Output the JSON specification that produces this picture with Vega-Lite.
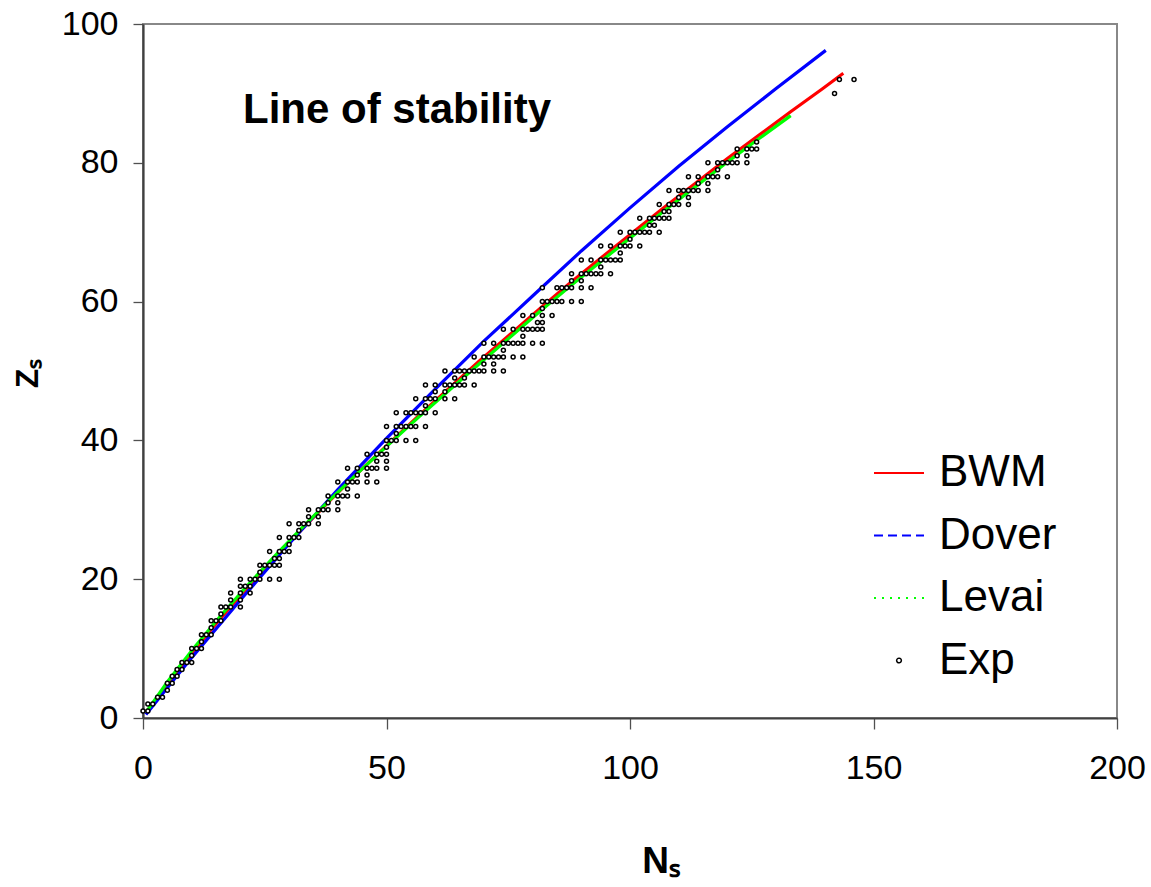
{
  "$schema": "https://vega.github.io/schema/vega-lite/v6.json",
  "autosize": "none",
  "padding": {"left": 143, "top": 24, "right": 34, "bottom": 169},
  "width": 974,
  "height": 694,
  "background": "white",
  "title": {
    "text": "Line of stability",
    "anchor": "start",
    "frame": "group",
    "orient": "top",
    "baseline": "alphabetic",
    "offset": 0,
    "dx": 100,
    "dy": 158,
    "font": "Liberation Sans",
    "fontWeight": "bold",
    "fontSize": 42,
    "color": "black"
  },
  "datasets": {
    "models": [
      {"s": "BWM", "N": 1.0, "Z": 1.0}, {"s": "BWM", "N": 5.1, "Z": 4.9}, {"s": "BWM", "N": 10.36, "Z": 9.64}, {"s": "BWM", "N": 15.78, "Z": 14.22}, {"s": "BWM", "N": 21.33, "Z": 18.67}, {"s": "BWM", "N": 27.0, "Z": 23.0}, {"s": "BWM", "N": 32.77, "Z": 27.3}, {"s": "BWM", "N": 38.63, "Z": 31.5}, {"s": "BWM", "N": 44.57, "Z": 35.6}, {"s": "BWM", "N": 50.59, "Z": 39.6}, {"s": "BWM", "N": 56.67, "Z": 43.6}, {"s": "BWM", "N": 62.81, "Z": 47.5}, {"s": "BWM", "N": 69.0, "Z": 51.4}, {"s": "BWM", "N": 75.24, "Z": 55.2}, {"s": "BWM", "N": 81.53, "Z": 59.0}, {"s": "BWM", "N": 87.86, "Z": 62.8}, {"s": "BWM", "N": 94.22, "Z": 66.4}, {"s": "BWM", "N": 100.62, "Z": 70.0}, {"s": "BWM", "N": 107.05, "Z": 73.6}, {"s": "BWM", "N": 113.51, "Z": 77.1}, {"s": "BWM", "N": 120.0, "Z": 80.6}, {"s": "BWM", "N": 126.51, "Z": 84.0}, {"s": "BWM", "N": 133.05, "Z": 87.4}, {"s": "BWM", "N": 139.6, "Z": 90.7}, {"s": "BWM", "N": 143.8, "Z": 92.9},
      {"s": "Dover", "N": 0.6, "Z": 0.5}, {"s": "Dover", "N": 10, "Z": 8.7}, {"s": "Dover", "N": 20, "Z": 17.0}, {"s": "Dover", "N": 30, "Z": 25.1}, {"s": "Dover", "N": 40, "Z": 32.9}, {"s": "Dover", "N": 50, "Z": 40.3}, {"s": "Dover", "N": 60, "Z": 47.4}, {"s": "Dover", "N": 70, "Z": 54.3}, {"s": "Dover", "N": 80, "Z": 60.8}, {"s": "Dover", "N": 90, "Z": 67.3}, {"s": "Dover", "N": 100, "Z": 73.5}, {"s": "Dover", "N": 110, "Z": 79.5}, {"s": "Dover", "N": 120, "Z": 85.2}, {"s": "Dover", "N": 130, "Z": 90.7}, {"s": "Dover", "N": 140.2, "Z": 96.2},
      {"s": "Levai", "N": 1.0, "Z": 1.2}, {"s": "Levai", "N": 5.1, "Z": 5.3}, {"s": "Levai", "N": 10.36, "Z": 10.0}, {"s": "Levai", "N": 15.78, "Z": 14.6}, {"s": "Levai", "N": 21.33, "Z": 19.0}, {"s": "Levai", "N": 27.0, "Z": 23.3}, {"s": "Levai", "N": 32.77, "Z": 27.5}, {"s": "Levai", "N": 38.63, "Z": 31.6}, {"s": "Levai", "N": 44.57, "Z": 35.6}, {"s": "Levai", "N": 50.59, "Z": 39.5}, {"s": "Levai", "N": 56.67, "Z": 43.4}, {"s": "Levai", "N": 62.81, "Z": 47.2}, {"s": "Levai", "N": 69.0, "Z": 51.0}, {"s": "Levai", "N": 75.24, "Z": 54.8}, {"s": "Levai", "N": 81.53, "Z": 58.6}, {"s": "Levai", "N": 87.86, "Z": 62.3}, {"s": "Levai", "N": 94.22, "Z": 65.9}, {"s": "Levai", "N": 100.62, "Z": 69.5}, {"s": "Levai", "N": 107.05, "Z": 73.1}, {"s": "Levai", "N": 113.51, "Z": 76.6}, {"s": "Levai", "N": 120.0, "Z": 80.1}, {"s": "Levai", "N": 126.51, "Z": 83.5}, {"s": "Levai", "N": 133.0, "Z": 86.8}
    ],
    "exp": [
      {"s":"Exp","Z":1,"N":0},{"s":"Exp","Z":1,"N":1},
      {"s":"Exp","Z":2,"N":1},{"s":"Exp","Z":2,"N":2},
      {"s":"Exp","Z":3,"N":3},{"s":"Exp","Z":3,"N":4},
      {"s":"Exp","Z":4,"N":5},
      {"s":"Exp","Z":5,"N":5},{"s":"Exp","Z":5,"N":6},
      {"s":"Exp","Z":6,"N":6},{"s":"Exp","Z":6,"N":7},
      {"s":"Exp","Z":7,"N":7},{"s":"Exp","Z":7,"N":8},
      {"s":"Exp","Z":8,"N":8},{"s":"Exp","Z":8,"N":9},{"s":"Exp","Z":8,"N":10},
      {"s":"Exp","Z":9,"N":10},
      {"s":"Exp","Z":10,"N":10},{"s":"Exp","Z":10,"N":11},{"s":"Exp","Z":10,"N":12},
      {"s":"Exp","Z":11,"N":12},
      {"s":"Exp","Z":12,"N":12},{"s":"Exp","Z":12,"N":13},{"s":"Exp","Z":12,"N":14},
      {"s":"Exp","Z":13,"N":14},
      {"s":"Exp","Z":14,"N":14},{"s":"Exp","Z":14,"N":15},{"s":"Exp","Z":14,"N":16},
      {"s":"Exp","Z":15,"N":16},
      {"s":"Exp","Z":16,"N":16},{"s":"Exp","Z":16,"N":17},{"s":"Exp","Z":16,"N":18},{"s":"Exp","Z":16,"N":20},
      {"s":"Exp","Z":17,"N":18},{"s":"Exp","Z":17,"N":20},
      {"s":"Exp","Z":18,"N":18},{"s":"Exp","Z":18,"N":20},{"s":"Exp","Z":18,"N":22},
      {"s":"Exp","Z":19,"N":20},{"s":"Exp","Z":19,"N":21},{"s":"Exp","Z":19,"N":22},
      {"s":"Exp","Z":20,"N":20},{"s":"Exp","Z":20,"N":22},{"s":"Exp","Z":20,"N":23},{"s":"Exp","Z":20,"N":24},{"s":"Exp","Z":20,"N":26},{"s":"Exp","Z":20,"N":28},
      {"s":"Exp","Z":21,"N":24},
      {"s":"Exp","Z":22,"N":24},{"s":"Exp","Z":22,"N":25},{"s":"Exp","Z":22,"N":26},{"s":"Exp","Z":22,"N":27},{"s":"Exp","Z":22,"N":28},
      {"s":"Exp","Z":23,"N":27},{"s":"Exp","Z":23,"N":28},
      {"s":"Exp","Z":24,"N":26},{"s":"Exp","Z":24,"N":28},{"s":"Exp","Z":24,"N":29},{"s":"Exp","Z":24,"N":30},
      {"s":"Exp","Z":25,"N":30},
      {"s":"Exp","Z":26,"N":28},{"s":"Exp","Z":26,"N":30},{"s":"Exp","Z":26,"N":31},{"s":"Exp","Z":26,"N":32},
      {"s":"Exp","Z":27,"N":32},
      {"s":"Exp","Z":28,"N":30},{"s":"Exp","Z":28,"N":32},{"s":"Exp","Z":28,"N":33},{"s":"Exp","Z":28,"N":34},{"s":"Exp","Z":28,"N":36},
      {"s":"Exp","Z":29,"N":34},{"s":"Exp","Z":29,"N":36},
      {"s":"Exp","Z":30,"N":34},{"s":"Exp","Z":30,"N":36},{"s":"Exp","Z":30,"N":37},{"s":"Exp","Z":30,"N":38},{"s":"Exp","Z":30,"N":40},
      {"s":"Exp","Z":31,"N":38},{"s":"Exp","Z":31,"N":40},
      {"s":"Exp","Z":32,"N":38},{"s":"Exp","Z":32,"N":40},{"s":"Exp","Z":32,"N":41},{"s":"Exp","Z":32,"N":42},{"s":"Exp","Z":32,"N":44},
      {"s":"Exp","Z":33,"N":42},
      {"s":"Exp","Z":34,"N":40},{"s":"Exp","Z":34,"N":42},{"s":"Exp","Z":34,"N":43},{"s":"Exp","Z":34,"N":44},{"s":"Exp","Z":34,"N":46},{"s":"Exp","Z":34,"N":48},
      {"s":"Exp","Z":35,"N":44},{"s":"Exp","Z":35,"N":46},
      {"s":"Exp","Z":36,"N":42},{"s":"Exp","Z":36,"N":44},{"s":"Exp","Z":36,"N":46},{"s":"Exp","Z":36,"N":47},{"s":"Exp","Z":36,"N":48},{"s":"Exp","Z":36,"N":50},
      {"s":"Exp","Z":37,"N":48},{"s":"Exp","Z":37,"N":50},
      {"s":"Exp","Z":38,"N":46},{"s":"Exp","Z":38,"N":48},{"s":"Exp","Z":38,"N":49},{"s":"Exp","Z":38,"N":50},
      {"s":"Exp","Z":39,"N":50},
      {"s":"Exp","Z":40,"N":50},{"s":"Exp","Z":40,"N":51},{"s":"Exp","Z":40,"N":52},{"s":"Exp","Z":40,"N":54},{"s":"Exp","Z":40,"N":56},
      {"s":"Exp","Z":41,"N":52},
      {"s":"Exp","Z":42,"N":50},{"s":"Exp","Z":42,"N":52},{"s":"Exp","Z":42,"N":53},{"s":"Exp","Z":42,"N":54},{"s":"Exp","Z":42,"N":55},{"s":"Exp","Z":42,"N":56},{"s":"Exp","Z":42,"N":58},
      {"s":"Exp","Z":44,"N":52},{"s":"Exp","Z":44,"N":54},{"s":"Exp","Z":44,"N":55},{"s":"Exp","Z":44,"N":56},{"s":"Exp","Z":44,"N":57},{"s":"Exp","Z":44,"N":58},{"s":"Exp","Z":44,"N":60},
      {"s":"Exp","Z":45,"N":58},
      {"s":"Exp","Z":46,"N":56},{"s":"Exp","Z":46,"N":58},{"s":"Exp","Z":46,"N":59},{"s":"Exp","Z":46,"N":60},{"s":"Exp","Z":46,"N":62},{"s":"Exp","Z":46,"N":64},
      {"s":"Exp","Z":47,"N":60},{"s":"Exp","Z":47,"N":62},
      {"s":"Exp","Z":48,"N":58},{"s":"Exp","Z":48,"N":60},{"s":"Exp","Z":48,"N":62},{"s":"Exp","Z":48,"N":63},{"s":"Exp","Z":48,"N":64},{"s":"Exp","Z":48,"N":65},{"s":"Exp","Z":48,"N":66},{"s":"Exp","Z":48,"N":68},
      {"s":"Exp","Z":49,"N":64},{"s":"Exp","Z":49,"N":66},
      {"s":"Exp","Z":50,"N":62},{"s":"Exp","Z":50,"N":64},{"s":"Exp","Z":50,"N":65},{"s":"Exp","Z":50,"N":66},{"s":"Exp","Z":50,"N":67},{"s":"Exp","Z":50,"N":68},{"s":"Exp","Z":50,"N":69},{"s":"Exp","Z":50,"N":70},{"s":"Exp","Z":50,"N":72},{"s":"Exp","Z":50,"N":74},
      {"s":"Exp","Z":51,"N":70},{"s":"Exp","Z":51,"N":72},
      {"s":"Exp","Z":52,"N":68},{"s":"Exp","Z":52,"N":70},{"s":"Exp","Z":52,"N":71},{"s":"Exp","Z":52,"N":72},{"s":"Exp","Z":52,"N":73},{"s":"Exp","Z":52,"N":74},{"s":"Exp","Z":52,"N":76},{"s":"Exp","Z":52,"N":78},
      {"s":"Exp","Z":53,"N":74},
      {"s":"Exp","Z":54,"N":70},{"s":"Exp","Z":54,"N":72},{"s":"Exp","Z":54,"N":74},{"s":"Exp","Z":54,"N":75},{"s":"Exp","Z":54,"N":76},{"s":"Exp","Z":54,"N":77},{"s":"Exp","Z":54,"N":78},{"s":"Exp","Z":54,"N":80},{"s":"Exp","Z":54,"N":82},
      {"s":"Exp","Z":55,"N":78},
      {"s":"Exp","Z":56,"N":74},{"s":"Exp","Z":56,"N":76},{"s":"Exp","Z":56,"N":78},{"s":"Exp","Z":56,"N":79},{"s":"Exp","Z":56,"N":80},{"s":"Exp","Z":56,"N":81},{"s":"Exp","Z":56,"N":82},
      {"s":"Exp","Z":57,"N":81},{"s":"Exp","Z":57,"N":82},
      {"s":"Exp","Z":58,"N":78},{"s":"Exp","Z":58,"N":80},{"s":"Exp","Z":58,"N":82},{"s":"Exp","Z":58,"N":84},
      {"s":"Exp","Z":59,"N":82},
      {"s":"Exp","Z":60,"N":82},{"s":"Exp","Z":60,"N":83},{"s":"Exp","Z":60,"N":84},{"s":"Exp","Z":60,"N":85},{"s":"Exp","Z":60,"N":86},{"s":"Exp","Z":60,"N":88},{"s":"Exp","Z":60,"N":90},
      {"s":"Exp","Z":62,"N":82},{"s":"Exp","Z":62,"N":85},{"s":"Exp","Z":62,"N":86},{"s":"Exp","Z":62,"N":87},{"s":"Exp","Z":62,"N":88},{"s":"Exp","Z":62,"N":90},{"s":"Exp","Z":62,"N":92},
      {"s":"Exp","Z":63,"N":88},{"s":"Exp","Z":63,"N":90},
      {"s":"Exp","Z":64,"N":88},{"s":"Exp","Z":64,"N":90},{"s":"Exp","Z":64,"N":91},{"s":"Exp","Z":64,"N":92},{"s":"Exp","Z":64,"N":93},{"s":"Exp","Z":64,"N":94},{"s":"Exp","Z":64,"N":96},
      {"s":"Exp","Z":65,"N":94},
      {"s":"Exp","Z":66,"N":90},{"s":"Exp","Z":66,"N":92},{"s":"Exp","Z":66,"N":94},{"s":"Exp","Z":66,"N":95},{"s":"Exp","Z":66,"N":96},{"s":"Exp","Z":66,"N":97},{"s":"Exp","Z":66,"N":98},
      {"s":"Exp","Z":67,"N":98},
      {"s":"Exp","Z":68,"N":94},{"s":"Exp","Z":68,"N":96},{"s":"Exp","Z":68,"N":98},{"s":"Exp","Z":68,"N":99},{"s":"Exp","Z":68,"N":100},{"s":"Exp","Z":68,"N":102},
      {"s":"Exp","Z":69,"N":100},
      {"s":"Exp","Z":70,"N":98},{"s":"Exp","Z":70,"N":100},{"s":"Exp","Z":70,"N":101},{"s":"Exp","Z":70,"N":102},{"s":"Exp","Z":70,"N":103},{"s":"Exp","Z":70,"N":104},{"s":"Exp","Z":70,"N":106},
      {"s":"Exp","Z":71,"N":104},{"s":"Exp","Z":71,"N":105},
      {"s":"Exp","Z":72,"N":102},{"s":"Exp","Z":72,"N":104},{"s":"Exp","Z":72,"N":105},{"s":"Exp","Z":72,"N":106},{"s":"Exp","Z":72,"N":107},{"s":"Exp","Z":72,"N":108},
      {"s":"Exp","Z":73,"N":107},{"s":"Exp","Z":73,"N":108},
      {"s":"Exp","Z":74,"N":106},{"s":"Exp","Z":74,"N":108},{"s":"Exp","Z":74,"N":109},{"s":"Exp","Z":74,"N":110},{"s":"Exp","Z":74,"N":112},
      {"s":"Exp","Z":75,"N":110},{"s":"Exp","Z":75,"N":112},
      {"s":"Exp","Z":76,"N":108},{"s":"Exp","Z":76,"N":110},{"s":"Exp","Z":76,"N":111},{"s":"Exp","Z":76,"N":112},{"s":"Exp","Z":76,"N":113},{"s":"Exp","Z":76,"N":114},{"s":"Exp","Z":76,"N":116},
      {"s":"Exp","Z":77,"N":114},{"s":"Exp","Z":77,"N":116},
      {"s":"Exp","Z":78,"N":112},{"s":"Exp","Z":78,"N":114},{"s":"Exp","Z":78,"N":116},{"s":"Exp","Z":78,"N":117},{"s":"Exp","Z":78,"N":118},{"s":"Exp","Z":78,"N":120},
      {"s":"Exp","Z":79,"N":118},
      {"s":"Exp","Z":80,"N":116},{"s":"Exp","Z":80,"N":118},{"s":"Exp","Z":80,"N":119},{"s":"Exp","Z":80,"N":120},{"s":"Exp","Z":80,"N":121},{"s":"Exp","Z":80,"N":122},{"s":"Exp","Z":80,"N":124},
      {"s":"Exp","Z":81,"N":122},{"s":"Exp","Z":81,"N":124},
      {"s":"Exp","Z":82,"N":122},{"s":"Exp","Z":82,"N":124},{"s":"Exp","Z":82,"N":125},{"s":"Exp","Z":82,"N":126},
      {"s":"Exp","Z":83,"N":126},
      {"s":"Exp","Z":90,"N":142},
      {"s":"Exp","Z":92,"N":143},{"s":"Exp","Z":92,"N":146}
    ]
  },
  "encoding": {
    "x": {
      "field": "N", "type": "quantitative",
      "scale": {"domain": [0, 200], "nice": false, "zero": false},
      "axis": {
        "values": [0, 50, 100, 150, 200],
        "title": "Nₛ",
        "titleFont": "Liberation Sans, sans-serif",
        "titleFontWeight": "bold",
        "titleFontSize": 37,
        "titleX": 518,
        "titleY": 154,
        "titleBaseline": "alphabetic",
        "tickSize": 11,
        "labelPadding": 22
      }
    },
    "y": {
      "field": "Z", "type": "quantitative",
      "scale": {"domain": [0, 100], "nice": false},
      "axis": {
        "values": [0, 20, 40, 60, 80, 100],
        "title": "Zₛ",
        "titleFont": "Liberation Sans, sans-serif",
        "titleFontWeight": "bold",
        "titleFontSize": 32,
        "titleX": -106,
        "titleY": 349,
        "titleAngle": -90,
        "titleBaseline": "alphabetic",
        "tickSize": 10,
        "labelPadding": 15
      }
    },
    "color": {
      "field": "s", "type": "nominal",
      "scale": {"domain": ["BWM", "Dover", "Levai", "Exp"], "range": ["#ff0000", "#0000ff", "#00ff00", "#000000"]},
      "legend": {
        "title": null,
        "orient": "none",
        "legendX": 734,
        "legendY": 427,
        "padding": 0,
        "symbolType": "stroke",
        "symbolSize": 2500,
        "symbolStrokeWidth": 2,
        "labelFont": "Liberation Sans, sans-serif",
        "labelFontSize": 44,
        "labelColor": "black",
        "labelOffset": 18,
        "labelLimit": 400,
        "rowPadding": 18.5,
        "encode": {
          "symbols": {
            "update": {
              "shape": {"signal": "datum.value === 'Exp' ? 'circle' : 'stroke'"},
              "size": {"signal": "datum.value === 'Exp' ? 22 : 2500"},
              "strokeDash": {"signal": "datum.value === 'Dover' ? [9, 5] : datum.value === 'Levai' ? [2, 6] : [1, 0]"},
              "strokeWidth": {"signal": "datum.value === 'Exp' ? 1.5 : 2.2"},
              "fill": {"value": "transparent"},
              "stroke": {"signal": "scale('color', datum.value)"}
            }
          }
        }
      }
    }
  },
  "layer": [
    {
      "data": {"name": "models"},
      "mark": {"type": "line", "strokeWidth": 3.2, "clip": true}
    },
    {
      "data": {"name": "exp"},
      "mark": {"type": "point", "shape": "circle", "filled": false, "size": 16, "strokeWidth": 1.5, "opacity": 1, "fill": "white", "fillOpacity": 1}
    }
  ],
  "config": {
    "view": {"stroke": "#888888", "strokeWidth": 2},
    "axis": {
      "grid": false,
      "domainColor": "#404040",
      "domainWidth": 2.2,
      "tickColor": "#505050",
      "tickWidth": 1.3,
      "labelFont": "Liberation Sans, sans-serif",
      "labelFontSize": 34,
      "labelColor": "black",
      "labelFlush": false,
      "labelOverlap": false,
      "titleColor": "black"
    }
  }
}
